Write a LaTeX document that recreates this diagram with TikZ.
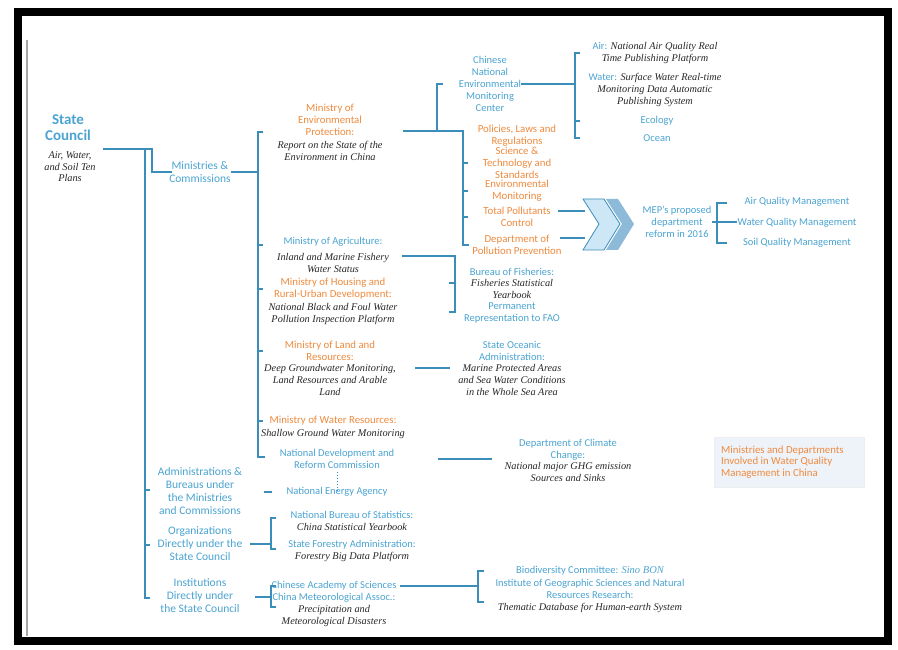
\documentclass[tikz,border=0pt]{standalone}
\usepackage{fontspec}
\setmainfont{Carlito}
\newfontfamily\descfont{Liberation Serif}
\definecolor{mblue}{HTML}{4AA3D1}
\definecolor{morange}{HTML}{EE8A3E}
\definecolor{lblue}{HTML}{3B8DBA}
\definecolor{chevlight}{HTML}{CDE7F6}
\definecolor{chevdark}{HTML}{8DBAD8}
\definecolor{boxfill}{HTML}{EEF3F9}

\begin{document}
\begin{tikzpicture}[x=1pt,y=-1pt,
  every node/.style={inner sep=0pt, align=center},
  bl/.style={text=mblue, font=\fontsize{10.5}{12}\selectfont},
  og/.style={text=morange, font=\fontsize{10.8}{11.8}\selectfont},
  ds/.style={text=black!85, font=\descfont\itshape\fontsize{10.3}{11.6}\selectfont},
  cat/.style={text=mblue, font=\fontsize{11.5}{13}\selectfont},
  conn/.style={draw=lblue, line width=1.6pt}]
  \useasboundingbox (0,0) rectangle (898,650);
  % frame
  \draw[line width=8pt] (18,12) rectangle (888,641);
  \draw[black!35, line width=2pt] (27,40) -- (27,636);

  % state council and categories
  \node[text=mblue, font=\fontsize{15}{16}\selectfont\bfseries] (sc) at (68,128) {State\\Council};
  \node[ds] (scplans) at (70,167) {Air, Water,\\and Soil Ten\\Plans};
  \node[cat] (minc) at (200,172) {Ministries \&\\Commissions};
  \node[cat] (adm) at (200,491) {Administrations \&\\Bureaus under\\the Ministries\\and Commissions};
  \node[cat] (orgs) at (200,544) {Organizations\\Directly under the\\State Council};
  \node[cat] (inst) at (200,596) {Institutions\\Directly under\\the State Council};

  % ministries
  \node[og] (mep) at (330,120) {Ministry of\\Environmental\\Protection:};
  \node[ds] (mepd) at (330,151) {Report on the State of the\\Environment in China};
  \node[bl] (agr) at (333,242) {Ministry of Agriculture:};
  \node[ds] (agrd) at (333,263) {Inland and Marine Fishery\\Water Status};
  \node[og] (hou) at (333,289) {Ministry of Housing and\\Rural-Urban Development:};
  \node[ds] (houd) at (333,314) {National Black and Foul Water\\Pollution Inspection Platform};
  \node[og] (land) at (330,351) {Ministry of Land and\\Resources:};
  \node[ds] (landd) at (330,380) {Deep Groundwater Monitoring,\\Land Resources and Arable\\Land};
  \node[og] (wat) at (333,421) {Ministry of Water Resources:};
  \node[ds] (watd) at (333,434) {Shallow Ground Water Monitoring};
  \node[bl] (ndrc) at (337,459) {National Development and\\Reform Commission};
  \node[bl] (nea) at (337,492) {National Energy Agency};
  \node[bl] (nbs) at (352,515) {National Bureau of Statistics:};
  \node[ds] (nbsd) at (352,527) {China Statistical Yearbook};
  \node[bl] (sfa) at (352,545) {State Forestry Administration:};
  \node[ds] (sfad) at (352,557) {Forestry Big Data Platform};
  \node[bl] (cas) at (334,586) {Chinese Academy of Sciences};
  \node[bl] (cma) at (334,598) {China Meteorological Assoc.:};
  \node[ds] (cmad) at (334,616) {Precipitation and\\Meteorological Disasters};

  % MEP branches
  \node[bl] (cnemc) at (490,84) {Chinese\\National\\Environmental\\Monitoring\\Center};
  \node[ds] (air) at (655,53) {{\normalfont\color{mblue}Air:} National Air Quality Real\\Time Publishing Platform};
  \node[ds] (water) at (655,90) {{\normalfont\color{mblue}Water:} Surface Water Real-time\\Monitoring Data Automatic\\Publishing System};
  \node[bl] (eco) at (657,121) {Ecology};
  \node[bl] (ocean) at (657,138) {Ocean};
  \node[og] (pol) at (517,136) {Policies, Laws and\\Regulations};
  \node[og] (sci) at (517,163) {Science \&\\Technology and\\Standards};
  \node[og] (envm) at (517,191) {Environmental\\Monitoring};
  \node[og] (tpc) at (517,217) {Total Pollutants\\Control};
  \node[og] (dpp) at (517,245) {Department of\\Pollution Prevention};
  \node[bl] (mepr) at (677,222) {MEP's proposed\\department\\reform in 2016};
  \node[bl] (aqm) at (797,202) {Air Quality Management};
  \node[bl] (wqm) at (797,223) {Water Quality Management};
  \node[bl] (sqm) at (797,243) {Soil Quality Management};

  % other branches
  \node[bl] (bof) at (512,272) {Bureau of Fisheries:};
  \node[ds] (bofd) at (512,289) {Fisheries Statistical\\Yearbook};
  \node[bl] (perm) at (512,313) {Permanent\\Representation to FAO};
  \node[bl] (soa) at (512,351) {State Oceanic\\Administration:};
  \node[ds] (soad) at (512,380) {Marine Protected Areas\\and Sea Water Conditions\\in the Whole Sea Area};
  \node[bl] (dcc) at (568,450) {Department of Climate\\Change:};
  \node[ds] (dccd) at (568,472) {National major GHG emission\\Sources and Sinks};
  \node[bl] (bio) at (590,571) {Biodiversity Committee: {\descfont\itshape Sino BON}};
  \node[bl] (igs) at (590,589) {Institute of Geographic Sciences and Natural\\Resources Research:};
  \node[ds] (igsd) at (590,608) {Thematic Database for Human-earth System};

  % legend
  \node[draw=boxfill!70!black!20, fill=boxfill, minimum width=150pt, minimum height=50pt] (legbox) at (789,462) {};
  \node[og, align=left, anchor=west] (leg) at (721,462) {Ministries and Departments\\Involved in Water Quality\\Management in China};

  % chevrons
  \coordinate (chin1) at (585,211);
  \coordinate (chin2) at (585,238);
  \fill[chevdark] (606,199) -- (618,199) -- (634,224) -- (618,250) -- (606,250) -- (622,224) -- cycle;
  \draw[lblue, fill=chevlight, line width=0.8pt] (583,199) -- (604,199) -- (620,224) -- (604,250) -- (583,250) -- (599,224) -- cycle;

  % junctions
  \coordinate (scj) at (152,149);
  \coordinate (trtop) at (145,149);
  \coordinate (trbot) at (145,598);
  \coordinate (mtop) at (258,132);
  \coordinate (mbot) at (258,457);
  \coordinate (mepj) at (437,131);
  \coordinate (mepv) at (463,131);
  \coordinate (cnj) at (575,84);
  \coordinate (agrj) at (455,256);
  \coordinate (refj) at (717,222);
  \coordinate (orgj) at (271,544);
  \coordinate (instj) at (271,597);
  \coordinate (casj) at (478,586);

  % connectors
  \draw[conn] (103,149) -- (scj) |- ([xshift=3pt]minc.west |- 0,172);
  \draw[conn] (trtop) -- (trbot) -- ++(5,0);
  \draw[conn] (145,490) -- ++(5,0) (145,545) -- ++(5,0);
  \draw[conn] (minc.east |- 0,172) -- (258,172);
  \draw[conn] ([xshift=5pt]mtop) -- (mtop) -- (mbot) -- ++(7,0);
  \foreach \yy in {245,289,351,421} \draw[conn] (258,\yy) -- ++(5,0);
  \draw[conn] (403,131) -- (mepv) -- (463,245) -- ++(6,0);
  \foreach \yy in {163,191,217} \draw[conn] (463,\yy) -- ++(5,0);
  \draw[conn] (mepj) -- (437,84) -- ++(6,0);
  \draw[conn] (cnemc.east |- cnj) -- (cnj);
  \draw[conn] (580,53) -- (575,53) -- (575,138) -- ++(5,0);
  \draw[conn] (575,121) -- ++(5,0);
  \draw[conn] (558,211) -- (chin1);
  \draw[conn] (560,238) -- (chin2);
  \draw[conn] (mepr.east |- refj) -- (wqm.west |- refj);
  \draw[conn] (727,203) -- (717,203) -- (717,243) -- ++(10,0);
  \draw[conn] (402,256) -- (agrj) -- (455,312) -- ++(-6,0);
  \draw[conn] (455,283) -- ++(-6,0);
  \draw[conn] (415,368) -- (450,368);
  \draw[conn] (438,459) -- (492,459);
  \draw[lblue, line width=1pt, dotted] (ndrc.south) ++(0,3) -- ([yshift=-3pt]nea.north);
  \draw[conn] (264,492) -- (272,492);
  \draw[conn] (250,544) -- (orgj);
  \draw[conn] (276,518) -- (271,518) -- (271,549) -- ++(5,0);
  \draw[conn] (255,597) -- (instj);
  \draw[conn] (276,586) -- (271,586) -- (271,607) -- ++(5,0);
  \draw[conn] (cas.east |- casj) ++(3,0) -- (casj);
  \draw[conn] (484,571) -- (478,571) -- (478,602) -- ++(6,0);
\end{tikzpicture}
\end{document}
